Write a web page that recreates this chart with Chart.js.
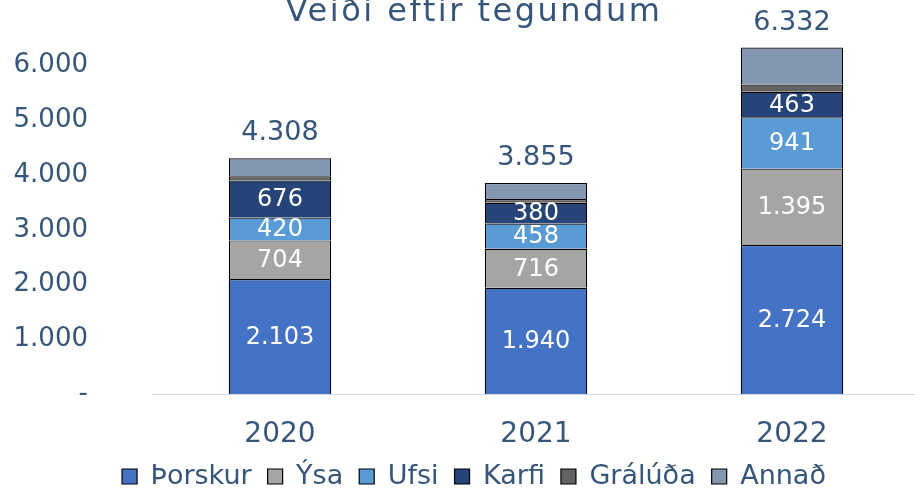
<!DOCTYPE html>
<html>
<head>
<meta charset="utf-8">
<script src="https://cdn.jsdelivr.net/npm/chart.js@4"></script>
<style>
  body { margin: 0; overflow: hidden; background: #fff; }
  #wrap { position: relative; width: 920px; height: 489px; }
</style>
</head>
<body>
<div id="wrap"><canvas id="veidiChart"></canvas></div>
<script>
const years = ['2020', '2021', '2022'];
const thorskur = [2103, 1940, 2724];
const ysa = [704, 716, 1395];
const ufsi = [420, 458, 941];
const karfi = [676, 380, 463];
const graluda = [75, 71, 133];
const annad = [330, 290, 676];
const totals = [4308, 3855, 6332];
const yTicks = [0, 1000, 2000, 3000, 4000, 5000, 6000];

const textColor = '#36557A';
const fontFamily = "'DejaVu Sans', Verdana, sans-serif";

// Icelandic number format: 1.234
function fmt(n) {
    if (n === 0) return '-';
    return String(n).replace(/\B(?=(\d{3})+(?!\d))/g, '.');
}

// Title (partly cut off at the top), segment labels and totals
const labelPlugin = {
    id: 'labels',
    afterLayout(chart) {
        // legend sits a little right of the canvas centre
        chart.legend.left += 14;
        chart.legend.right += 14;
    },
    afterDatasetsDraw(chart) {
        const ctx = chart.ctx;
        ctx.save();
        ctx.textAlign = 'center';
        ctx.textBaseline = 'middle';
        // labels inside the first four segments
        for (let d = 0; d < 4; d++) {
            const meta = chart.getDatasetMeta(d);
            meta.data.forEach((bar, i) => {
                ctx.fillStyle = '#ffffff';
                ctx.font = '24px ' + fontFamily;
                ctx.fillText(fmt(chart.data.datasets[d].data[i]), bar.x, (bar.y + bar.base) / 2 + 1);
            });
        }
        // totals above the bars
        const topMeta = chart.getDatasetMeta(chart.data.datasets.length - 1);
        topMeta.data.forEach((bar, i) => {
            ctx.fillStyle = textColor;
            ctx.font = '27px ' + fontFamily;
            ctx.fillText(fmt(totals[i]), bar.x, bar.y - 25);
        });
        // chart title
        ctx.font = '32px ' + fontFamily;
        ctx.letterSpacing = '2.5px';
        ctx.textBaseline = 'alphabetic';
        ctx.fillText('Veiði eftir tegundum', 474, 21);
        ctx.restore();
    }
};

const ctx = document.getElementById('veidiChart');
new Chart(ctx, {
    type: 'bar',
    data: {
        labels: years,
        datasets: [
            { label: 'Þorskur', data: thorskur, backgroundColor: '#4472C4' },
            { label: 'Ýsa', data: ysa, backgroundColor: '#A5A5A5' },
            { label: 'Ufsi', data: ufsi, backgroundColor: '#5B9BD5' },
            { label: 'Karfi', data: karfi, backgroundColor: '#264478' },
            { label: 'Grálúða', data: graluda, backgroundColor: '#636363' },
            { label: 'Annað', data: annad, backgroundColor: '#8497B0' }
        ].map(ds => Object.assign(ds, {
            borderColor: '#000000',
            borderWidth: 1.2,
            barPercentage: 0.4,
            categoryPercentage: 1
        }))
    },
    options: {
        responsive: true,
        maintainAspectRatio: false,
        animation: false,
        layout: { padding: { top: 11, left: 0, right: 0, bottom: -11 } },
        scales: {
            x: {
                stacked: true,
                grid: { display: false, drawTicks: false },
                border: { color: '#D9D9D9' },
                ticks: { color: textColor, font: { family: fontFamily, size: 28 }, padding: 24 },
                afterFit: s => { s.height = 53; }
            },
            y: {
                stacked: true,
                min: 0,
                max: 7000,
                afterBuildTicks: axis => { axis.ticks = yTicks.map(v => ({ value: v })); },
                afterFit: s => { s.width = 152; s.paddingTop = 0; s.paddingBottom = 0; },
                grid: { display: false, drawTicks: false },
                border: { display: false },
                ticks: {
                    color: textColor,
                    font: { family: fontFamily, size: 26 },
                    padding: 64,
                    callback: v => fmt(v)
                }
            }
        },
        plugins: {
            legend: {
                position: 'bottom',
                labels: {
                    color: textColor,
                    font: { family: fontFamily, size: 27 },
                    boxWidth: 15,
                    boxHeight: 15,
                    padding: 16
                }
            },
            tooltip: { enabled: false }
        }
    },
    plugins: [labelPlugin]
});
</script>
</body>
</html>
